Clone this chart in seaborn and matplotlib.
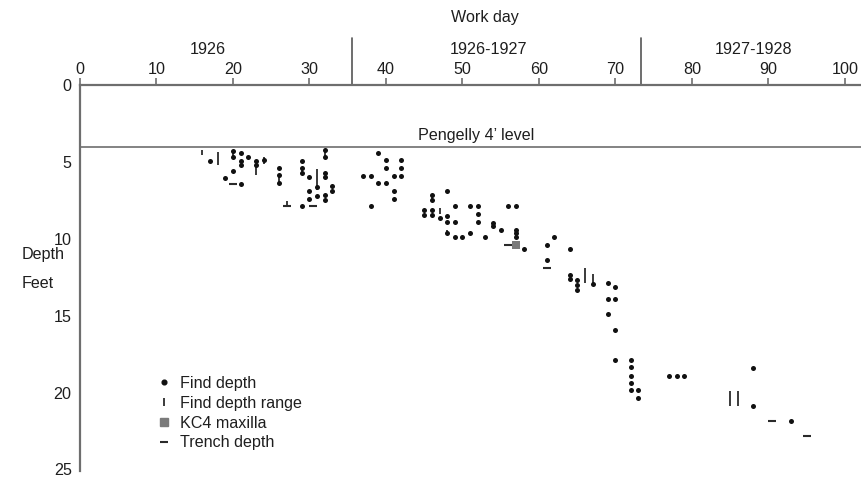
import numpy as np
import pandas as pd
import matplotlib.pyplot as plt
import seaborn as sns
from matplotlib.lines import Line2D
import matplotlib.transforms as mtransforms

# finds: single depths (work day, feet below datum)
find_day = [17, 20, 20, 21, 21, 21, 22, 23, 23, 24, 19, 20, 21,
            26, 26, 26, 29, 29, 29, 30, 29, 30, 30, 31, 31,
            32, 32, 32, 32, 32, 32, 33, 33,
            37, 38, 38, 39, 39, 40, 40, 40, 41, 41, 41, 42, 42, 42,
            45, 45, 46, 46, 46, 46, 47, 48, 48, 48, 48, 49, 49, 49, 50,
            51, 51, 52, 52, 52, 53, 54, 54, 55, 56, 57, 57, 57, 57, 58,
            61, 62, 64, 61, 64, 64, 65, 65, 65, 67,
            69, 70, 69, 70, 69, 70, 70,
            72, 72, 72, 72, 72, 73, 73, 77, 78, 79, 88, 88, 93]
find_depth = [4.95, 4.3, 4.65, 4.45, 4.95, 5.2, 4.65, 4.95, 5.2, 4.9, 6.05, 5.6, 6.45,
              5.4, 5.85, 6.4, 4.95, 5.4, 5.7, 5.95, 7.9, 6.9, 7.4, 6.65, 7.2,
              4.25, 4.65, 5.7, 5.95, 7.15, 7.45, 6.6, 6.9,
              5.9, 5.9, 7.9, 4.45, 6.4, 4.9, 5.4, 6.4, 5.9, 6.9, 7.4, 4.9, 5.4, 5.9,
              8.1, 8.45, 7.15, 7.5, 8.1, 8.45, 8.65, 6.9, 8.55, 8.9, 9.6, 7.9, 8.9, 9.9, 9.9,
              7.9, 9.6, 7.9, 8.4, 8.9, 9.9, 8.95, 9.2, 9.4, 7.9, 7.9, 9.4, 9.65, 9.9, 10.65,
              10.4, 9.9, 10.65, 11.4, 12.35, 12.6, 12.7, 13.0, 13.35, 12.95,
              12.9, 13.15, 13.9, 13.9, 14.9, 15.9, 17.85,
              17.85, 18.35, 18.9, 19.4, 19.85, 19.85, 20.35, 18.9, 18.9, 18.9, 18.4, 20.85, 21.85]

# finds recorded as a depth range
range_day = [16, 18, 20, 23, 24, 26, 27, 29, 31, 32, 46, 47, 48, 54, 57, 66, 67, 85, 86]
range_top = [4.25, 4.35, 4.3, 5.2, 4.65, 5.85, 7.55, 5.4, 5.45, 4.25, 7.15, 8.0, 9.4, 8.95, 9.4, 11.9, 12.3, 19.9, 19.9]
range_bottom = [4.55, 5.2, 4.65, 5.85, 5.15, 6.4, 7.9, 5.7, 6.8, 4.65, 7.5, 8.4, 9.6, 9.2, 9.9, 12.9, 12.95, 20.85, 20.85]

maxilla_day = [57]
maxilla_depth = [10.4]

trench_day = [20, 27, 30.5, 56, 61, 90.5, 95]
trench_depth = [6.45, 7.9, 7.9, 10.4, 11.9, 21.85, 22.8]

season_breaks = [35.5, 73.3]
season_labels = ["1926", "1926-1927", "1927-1928"]
season_label_day = [16.7, 53.4, 88.0]

pengelly_level = 4

sns.set_style("white")
plt.rcParams["font.family"] = ["Liberation Sans", "DejaVu Sans"]
FS = 11.6
TXT = "#1e1e1e"

fig = plt.figure(figsize=(8.61, 4.8), dpi=100)
ax = fig.add_axes([80 / 861, 1 - 471 / 480, 1 - 80 / 861, 386 / 480])

finds = pd.DataFrame({"day": find_day, "depth": find_depth})
sns.scatterplot(data=finds, x="day", y="depth", ax=ax, color="#111111",
                s=13, linewidth=0, marker="o", zorder=4)

ax.vlines(range_day, range_top, range_bottom, color="#3a3a3a", lw=1.4, zorder=3)

maxilla = pd.DataFrame({"day": maxilla_day, "depth": maxilla_depth})
sns.scatterplot(data=maxilla, x="day", y="depth", ax=ax, color="#7a7a7a",
                s=40, marker="s", linewidth=0, zorder=5)

ax.scatter(trench_day, trench_depth, marker="_", s=30, color="#2a2a2a",
           linewidths=1.5, zorder=3)

# Pengelly 4' level
ax.axhline(pengelly_level, color="#6e6e6e", lw=1.2, zorder=1)
ax.text(51.8, pengelly_level - 0.25, "Pengelly 4\u2019 level", ha="center",
        va="bottom", fontsize=FS, color=TXT)

ax.set_xlim(0, 102.1)
ax.set_ylim(25.1, 0)
ax.set_xticks(np.arange(0, 101, 10))
ax.set_yticks(np.arange(0, 26, 5))
ax.xaxis.tick_top()
ax.tick_params(axis="x", direction="out", length=5, width=1.2, color="#6e6e6e",
               pad=1, labelsize=FS, labelcolor=TXT)
ax.tick_params(axis="y", direction="out", length=5, width=1.2, color="#6e6e6e",
               pad=1, labelsize=FS, labelcolor=TXT)
ax.set_xlabel("")
ax.set_ylabel("")
for side in ["right", "bottom"]:
    ax.spines[side].set_visible(False)
for side in ["left", "top"]:
    ax.spines[side].set_color("#6e6e6e")
    ax.spines[side].set_linewidth(1.6)

# season separators and labels above the axis
trans = mtransforms.blended_transform_factory(ax.transData, ax.transAxes)
for b in season_breaks:
    ax.plot([b, b], [1.0, 1.122], transform=trans, color="#555555", lw=1.2, clip_on=False)
for lab, d in zip(season_labels, season_label_day):
    ax.text(d, 1.091, lab, transform=trans, ha="center", va="center",
            fontsize=FS, color=TXT)
ax.text(52.9, 1.176, "Work day", transform=trans, ha="center", va="center",
        fontsize=FS, color=TXT)

fig.text(22 / 861, 1 - 255 / 480, "Depth", ha="left", va="center", fontsize=FS, color=TXT)
fig.text(22 / 861, 1 - 283 / 480, "Feet", ha="left", va="center", fontsize=FS, color=TXT)

handles = [
    Line2D([], [], marker="o", ls="", color="#111111", markersize=3.4),
    Line2D([], [], marker="|", ls="", color="#3a3a3a", markersize=6, mew=1.4),
    Line2D([], [], marker="s", ls="", color="#7a7a7a", markersize=5.5),
    Line2D([], [], marker="_", ls="", color="#2a2a2a", markersize=6, mew=1.5),
]
labels = ["Find depth", "Find depth range", "KC4 maxilla", "Trench depth"]
fig.legend(handles, labels, loc="upper left", bbox_to_anchor=(158 / 861, 1 - 376 / 480),
           frameon=False, fontsize=FS, handlelength=0.8, handletextpad=0.55,
           labelspacing=0.3, borderpad=0, borderaxespad=0, labelcolor=TXT)

fig.savefig("out.png", dpi=100)
